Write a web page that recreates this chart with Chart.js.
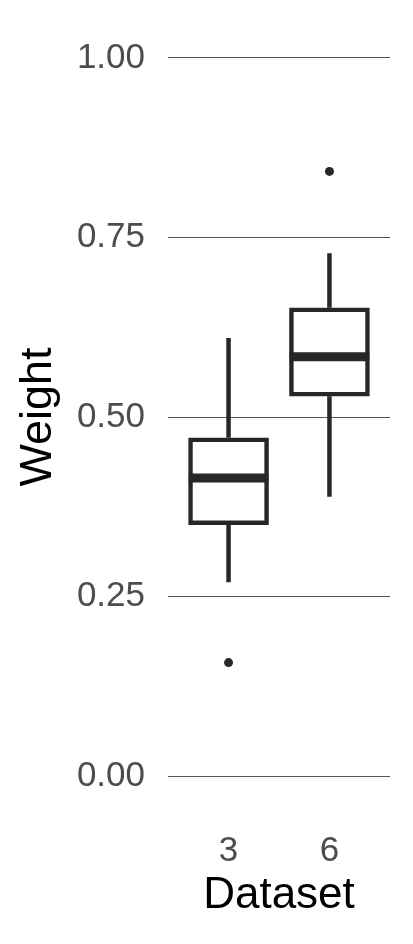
<!DOCTYPE html>
<html>
<head>
<meta charset="utf-8">
<script src="https://cdn.jsdelivr.net/npm/chart.js@4/dist/chart.umd.min.js"></script>
<style>
  html, body { margin: 0; padding: 0; background: #ffffff; }
  #wrap { width: 413px; height: 944px; }
</style>
</head>
<body>
<div id="wrap"><canvas id="c" width="413" height="944"></canvas></div>
<script>
// ---- data ----
const categories = ['3', '6'];
const whiskerLow = [0.270, 0.389];
const q1 = [0.350, 0.529];
const median = [0.415, 0.584];
const q3 = [0.471, 0.652];
const whiskerHigh = [0.610, 0.728];
const outliers = [[0.158], [0.842]];
const yTicks = [0, 0.25, 0.5, 0.75, 1.0];

// ---- style ----
const ink = '#272727';
const halfBox = 0.395;
const FONT = '"Liberation Sans", Arial, Helvetica, sans-serif';

const pos = categories.map((c, i) => i + 1);

const boxData = pos.map((x, i) => ({ x: x, y: [q1[i], q3[i]] }));
const whiskerData = [];
pos.forEach((x, i) => {
  whiskerData.push({ x: x, y: whiskerLow[i] }, { x: x, y: q1[i] }, { x: x, y: null });
  whiskerData.push({ x: x, y: q3[i] }, { x: x, y: whiskerHigh[i] }, { x: x, y: null });
});
const medianData = [];
pos.forEach((x, i) => {
  medianData.push({ x: x - halfBox, y: median[i] }, { x: x + halfBox, y: median[i] }, { x: x, y: null });
});
const outlierData = [];
pos.forEach((x, i) => outliers[i].forEach(v => outlierData.push({ x: x, y: v })));

new Chart(document.getElementById('c'), {
  type: 'bar',
  data: {
    datasets: [
      { type: 'line', label: 'median', data: medianData, borderColor: ink, borderWidth: 9,
        pointRadius: 0, spanGaps: false, borderCapStyle: 'butt' },
      { type: 'line', label: 'outliers', data: outlierData, showLine: false,
        pointRadius: 4.5, pointBackgroundColor: ink, pointBorderWidth: 0, borderColor: ink },
      { type: 'bar', label: 'box', data: boxData, backgroundColor: '#ffffff', borderColor: ink,
        borderWidth: 4.5, borderSkipped: false, barThickness: 80 },
      { type: 'line', label: 'whiskers', data: whiskerData, borderColor: ink, borderWidth: 4.5,
        pointRadius: 0, spanGaps: false, borderCapStyle: 'butt' }
    ]
  },
  options: {
    responsive: false,
    animation: false,
    devicePixelRatio: 1,
    layout: { padding: { top: 22, right: 23, bottom: 0, left: 0 } },
    plugins: { legend: { display: false }, tooltip: { enabled: false } },
    scales: {
      x: {
        type: 'linear',
        min: 0.4, max: 2.6,
        offset: false,
        grid: { display: false, drawTicks: false },
        border: { display: false },
        afterBuildTicks: (s) => { s.ticks = pos.map(v => ({ value: v })); },
        afterFit: (s) => { s.height = 132; s.paddingLeft = 0; s.paddingRight = 0; },
        ticks: {
          callback: (v) => categories[Math.round(v) - 1],
          color: '#4d4d4d', font: { family: FONT, size: 35 }, padding: 18,
          maxRotation: 0, autoSkip: false
        },
        title: { display: true, text: 'Dataset', color: '#000000',
          font: { family: FONT, size: 44, lineHeight: 1 }, padding: { top: 0, bottom: 26 } }
      },
      y: {
        min: -0.05, max: 1.05,
        grid: { color: '#555555', lineWidth: 1, drawTicks: false },
        border: { display: false },
        afterBuildTicks: (s) => { s.ticks = yTicks.map(v => ({ value: v })); },
        afterFit: (s) => { s.width = 168; s.paddingTop = 0; s.paddingBottom = 0; },
        ticks: {
          callback: (v) => Number(v).toFixed(2),
          color: '#4d4d4d', font: { family: FONT, size: 35 }, padding: 23
        },
        title: { display: true, text: 'Weight', color: '#000000',
          font: { family: FONT, size: 45, lineHeight: 1 }, padding: { top: 16, bottom: 0 } }
      }
    }
  }
});
</script>
</body>
</html>
